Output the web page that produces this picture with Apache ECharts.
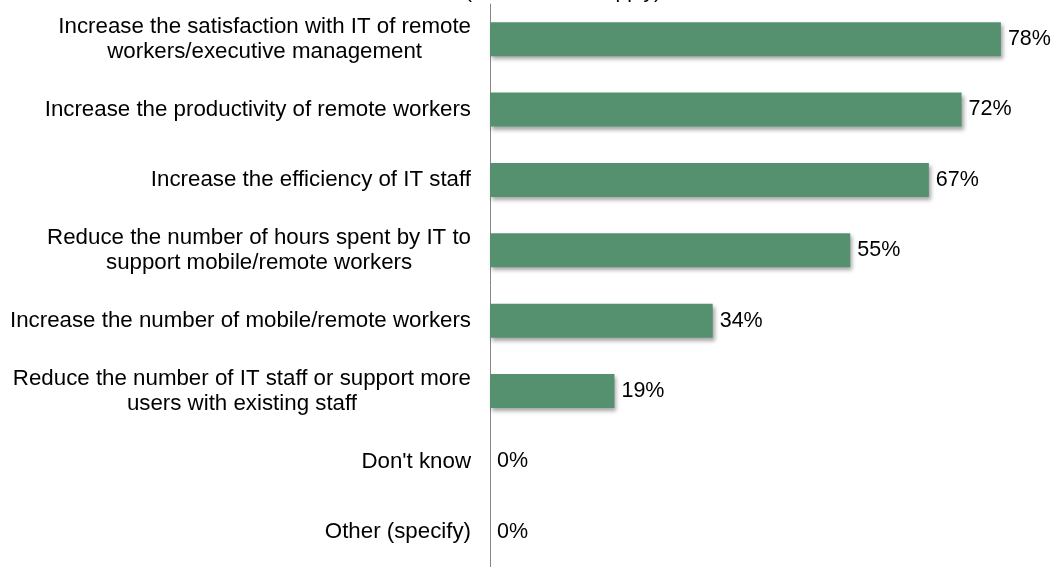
<!DOCTYPE html>
<html>
<head>
<meta charset="utf-8">
<script src="https://cdn.jsdelivr.net/npm/echarts@6/dist/echarts.min.js"></script>
<style>
  html, body { margin: 0; padding: 0; background: #fff; }
  #chart { width: 1060px; height: 567px; }
</style>
</head>
<body>
<div id="chart"></div>
<script>
const titleText = '(Select all that apply)';

const categories = [
  'Increase the satisfaction with IT of remote\nworkers/executive management',
  'Increase the productivity of remote workers',
  'Increase the efficiency of IT staff',
  'Reduce the number of hours spent by IT to\nsupport mobile/remote workers',
  'Increase the number of mobile/remote workers',
  'Reduce the number of IT staff or support more\nusers with existing staff',
  "Don't know",
  'Other (specify)'
];

const values = [78, 72, 67, 55, 34, 19, 0, 0];

const font = '"Liberation Sans", Arial, sans-serif';

var myChart = echarts.init(document.getElementById('chart'));

myChart.setOption({
  animation: false,
  title: {
    text: titleText,
    left: 465,
    top: -18.5,
    padding: 0,
    textStyle: { fontFamily: font, fontSize: 21, fontWeight: 'normal', color: '#000' }
  },
  grid: {
    left: 490,
    right: 46,
    top: 4,
    height: 570
  },
  xAxis: {
    type: 'value',
    min: 0,
    max: 80,
    show: false
  },
  yAxis: {
    type: 'category',
    data: categories,
    inverse: true,
    axisLine: { lineStyle: { color: '#868686', width: 1 } },
    axisTick: { show: false },
    splitLine: { show: false },
    axisLabel: {
      margin: 19,
      // centre each line inside the label block (Excel style)
      formatter: v => '{c|' + v + '}',
      rich: {
        c: {
          align: 'center',
          fontFamily: font,
          fontSize: 22.3,
          lineHeight: 25,
          color: '#000'
        }
      }
    }
  },
  series: [{
    type: 'bar',
    data: values,
    barWidth: 34,
    itemStyle: {
      color: '#55906F',
      shadowColor: 'rgba(0,0,0,0.35)',
      shadowBlur: 4,
      shadowOffsetX: 2,
      shadowOffsetY: 3
    },
    label: {
      show: true,
      position: 'right',
      distance: 7,
      formatter: '{c}%',
      fontFamily: font,
      fontSize: 21.5,
      color: '#000'
    }
  }]
});
</script>
</body>
</html>
